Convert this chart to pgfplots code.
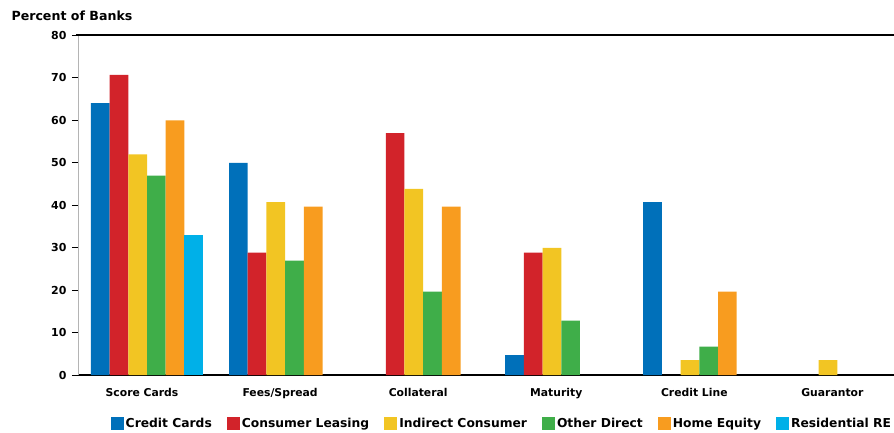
\documentclass[border=0pt]{standalone}
\usepackage{pgfplots}
\pgfplotsset{compat=1.18}
\usepackage{fontspec}
\setmainfont{DejaVu Sans}

\definecolor{ccblue}{HTML}{0070BA}
\definecolor{clred}{HTML}{D2232A}
\definecolor{icyellow}{HTML}{F2C523}
\definecolor{odgreen}{HTML}{3FAE49}
\definecolor{heorange}{HTML}{F89C1F}
\definecolor{recyan}{HTML}{00B0E8}
\definecolor{axgray}{HTML}{B4B4B4}

\begin{document}
\begin{tikzpicture}
\useasboundingbox (-78pt,-57pt) rectangle (816pt,375pt);
\begin{axis}[
  at={(0,0)}, anchor=south west,
  scale only axis, width=816pt, height=340pt,
  xmin=-0.5, xmax=5.41, ymin=0, ymax=80,
  axis x line*=bottom, axis y line*=left,
  x axis line style={black, line width=1.1pt},
  y axis line style={axgray, line width=0.9pt},
  clip=false,
  ybar=0pt, bar width=18.7pt,
  ytick={0,10,...,80},
  /pgf/number format/assume math mode=true,
  yticklabel style={font=\bfseries\fontsize{11}{13}\selectfont, xshift=-2pt},
  tick align=outside,
  major tick length=6pt,
  ytick style={black, line width=0.9pt},
  xtick={0,1,2,3,4,5},
  xticklabels={Score Cards, Fees/Spread, Collateral, Maturity, Credit Line, Guarantor},
  xticklabel style={font=\bfseries\fontsize{10.8}{12}\selectfont, yshift=-4pt, xshift=-5pt},
  major x tick style={draw=none},
  extra x ticks={0.5,1.5,2.5,3.5,4.5},
  extra x tick labels={},
  extra x tick style={major x tick style={black, line width=0.9pt}},
  legend columns=6,
  legend style={at={(0.5195,-0.144)}, anchor=center, draw=none, fill=none,
    font=\bfseries\fontsize{12.3}{14}\selectfont,
    /tikz/every even column/.append style={column sep=13pt}},
  legend cell align=left,
  legend image code/.code={\fill[#1] (0pt,-6.5pt) rectangle (13pt,6.5pt);},
]
\addplot[fill=ccblue, draw=none] coordinates {(0,64.0) (1,49.9) (3,4.7) (4,40.7)};
\addplot[fill=clred, draw=none] coordinates {(0,70.6) (1,28.8) (2,56.9) (3,28.8)};
\addplot[fill=icyellow, draw=none] coordinates {(0,51.9) (1,40.7) (2,43.8) (3,29.9) (4,3.5) (5,3.5)};
\addplot[fill=odgreen, draw=none] coordinates {(0,46.9) (1,26.9) (2,19.6) (3,12.8) (4,6.7)};
\addplot[fill=heorange, draw=none] coordinates {(0,59.9) (1,39.6) (2,39.6) (4,19.6)};
\addplot[fill=recyan, draw=none] coordinates {(0,33.0)};
\legend{Credit Cards, Consumer Leasing, Indirect Consumer, Other Direct, Home Equity, Residential RE}
\draw[black, line width=1.4pt] ([xshift=-2pt]rel axis cs:0,1) -- (rel axis cs:1,1);
\node[anchor=west, font=\bfseries\fontsize{12.6}{14}\selectfont] at ([xshift=-70pt, yshift=19pt]rel axis cs:0,1) {Percent of Banks};
\end{axis}
\end{tikzpicture}
\end{document}
